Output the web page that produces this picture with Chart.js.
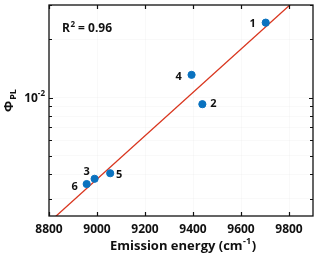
<!DOCTYPE html>
<html>
<head>
<meta charset="utf-8">
<script src="https://cdn.jsdelivr.net/npm/chart.js@4.4.1/dist/chart.umd.min.js"></script>
<style>
  html, body { margin: 0; padding: 0; background: #fff; }
  #wrap { width: 318px; height: 259px; position: relative; }
</style>
</head>
<body>
<div id="wrap"><canvas id="chart"></canvas></div>
<script>
// emission energy (cm-1) and PL quantum yield of the six samples
const sampleLabels = ['1', '2', '3', '4', '5', '6'];
const energy = [9703, 9439, 8990, 9394, 9055, 8957];
const phiPL = [0.0244, 0.00924, 0.0038, 0.0131, 0.00406, 0.00357];

// linear fit of log(phi) vs energy, given by its two ends
const fitX = [8800, 9900];
const fitY = [0.00226, 0.0386];

const xTicks = [8800, 9000, 9200, 9400, 9600, 9800];
const yTicks = [0.003, 0.004, 0.005, 0.006, 0.007, 0.008, 0.009, 0.01, 0.02, 0.03];
const yLabelled = [0.01];
const rSquared = '0.96';

const FONT = '"Open Sans", "DejaVu Sans", sans-serif';

// label offsets per sample (dx, dy)
const labelPos = {
    '1': [-13, 1],
    '2': [11, 0],
    '3': [-8, -7],
    '4': [-13, 2],
    '5': [9, 2],
    '6': [-12, 3]
};

function supText(ctx, base, sup, x, y, size, align) {
    ctx.font = 'bold ' + size + 'px ' + FONT;
    const wb = ctx.measureText(base).width;
    ctx.font = 'bold ' + Math.round(size * 0.68) + 'px ' + FONT;
    const ws = ctx.measureText(sup).width;
    let x0 = x;
    if (align === 'right') x0 = x - wb - ws;
    if (align === 'center') x0 = x - (wb + ws) / 2;
    ctx.textAlign = 'left';
    ctx.font = 'bold ' + size + 'px ' + FONT;
    ctx.fillText(base, x0, y);
    ctx.font = 'bold ' + Math.round(size * 0.68) + 'px ' + FONT;
    ctx.fillText(sup, x0 + wb, y - size * 0.42);
}

const decorations = {
    id: 'decorations',
    afterDatasetsDraw(chart) {
        const ctx = chart.ctx;
        const area = chart.chartArea;
        const xs = chart.scales.x;
        const ys = chart.scales.y;
        ctx.save();
        ctx.strokeStyle = '#111';
        ctx.fillStyle = '#111';

        // box
        ctx.lineWidth = 1.3;
        ctx.strokeRect(area.left, area.top, area.right - area.left, area.bottom - area.top);

        // inward ticks on all sides
        ctx.lineWidth = 1.2;
        ctx.beginPath();
        xTicks.forEach(v => {
            const px = Math.round(xs.getPixelForValue(v)) + 0.5;
            ctx.moveTo(px, area.bottom); ctx.lineTo(px, area.bottom - 4);
            ctx.moveTo(px, area.top); ctx.lineTo(px, area.top + 4);
        });
        yTicks.forEach(v => {
            const py = Math.round(ys.getPixelForValue(v)) + 0.5;
            const len = yLabelled.includes(v) ? 4 : 3;
            ctx.moveTo(area.left, py); ctx.lineTo(area.left + len, py);
            ctx.moveTo(area.right, py); ctx.lineTo(area.right - len, py);
        });
        ctx.stroke();

        // y tick label 10^-2
        ctx.textBaseline = 'middle';
        yLabelled.forEach(v => {
            const py = ys.getPixelForValue(v);
            supText(ctx, '10', '-2', area.left - 4, py + 1, 12, 'right');
        });

        // sample labels
        ctx.textBaseline = 'middle';
        ctx.textAlign = 'center';
        ctx.font = 'bold 11px ' + FONT;
        const meta = chart.getDatasetMeta(0);
        meta.data.forEach((pt, i) => {
            const lab = sampleLabels[i];
            const off = labelPos[lab];
            ctx.fillText(lab, pt.x + off[0], pt.y + off[1]);
        });

        // R^2 annotation
        ctx.textBaseline = 'alphabetic';
        ctx.font = 'bold 12px ' + FONT;
        const x0 = area.left + 13;
        const y0 = area.top + 27;
        ctx.textAlign = 'left';
        ctx.fillText('R', x0, y0);
        const wR = ctx.measureText('R').width;
        ctx.font = 'bold 8px ' + FONT;
        ctx.fillText('2', x0 + wR + 0.5, y0 - 5);
        ctx.font = 'bold 12px ' + FONT;
        ctx.fillText(' = ' + rSquared, x0 + wR + 5, y0);

        // x axis title
        const cx = (area.left + area.right) / 2 + 2;
        const ty = 250;
        ctx.font = 'bold 13px ' + FONT;
        const t1 = 'Emission energy (cm';
        const w1 = ctx.measureText(t1).width;
        ctx.font = 'bold 9px ' + FONT;
        const w2 = ctx.measureText('-1').width;
        ctx.font = 'bold 13px ' + FONT;
        const w3 = ctx.measureText(')').width;
        const sx = cx - (w1 + w2 + w3 + 1) / 2;
        ctx.fillText(t1, sx, ty);
        ctx.font = 'bold 9px ' + FONT;
        ctx.fillText('-1', sx + w1 + 0.5, ty - 6);
        ctx.font = 'bold 13px ' + FONT;
        ctx.fillText(')', sx + w1 + w2 + 1, ty);

        // y axis title (rotated)
        ctx.save();
        ctx.translate(13, 112);
        ctx.rotate(-Math.PI / 2);
        ctx.font = 'bold 13px ' + FONT;
        ctx.fillText('\u03A6', 0, 0);
        const wPhi = ctx.measureText('\u03A6').width;
        ctx.font = 'bold 9px ' + FONT;
        ctx.fillText('PL', wPhi + 1, 3);
        ctx.restore();

        ctx.restore();
    }
};

new Chart(document.getElementById('chart'), {
    type: 'scatter',
    data: {
        datasets: [
            {
                label: 'samples',
                data: energy.map((e, i) => ({ x: e, y: phiPL[i] })),
                backgroundColor: '#0a72bf',
                borderColor: '#0a72bf',
                pointRadius: 3.6,
                order: 1
            },
            {
                label: 'fit',
                type: 'line',
                data: fitX.map((e, i) => ({ x: e, y: fitY[i] })),
                borderColor: '#d9361f',
                borderWidth: 1.3,
                pointRadius: 0,
                fill: false,
                order: 2
            }
        ]
    },
    options: {
        responsive: true,
        maintainAspectRatio: false,
        animation: false,
        devicePixelRatio: 1,
        layout: { padding: { left: 0, right: 3, top: 2, bottom: 0 } },
        plugins: {
            legend: { display: false },
            tooltip: { enabled: false }
        },
        scales: {
            x: {
                type: 'linear',
                min: 8800,
                max: 9900,
                afterBuildTicks: scale => { scale.ticks = xTicks.map(v => ({ value: v })); },
                afterFit: scale => { scale.height = 43; },
                grid: {
                    color: 'rgba(0,0,0,0.025)',
                    drawTicks: false
                },
                border: { display: false },
                ticks: {
                    color: '#111',
                    padding: 6,
                    maxRotation: 0,
                    autoSkip: false,
                    callback: value => String(value),
                    font: { family: FONT, size: 12, weight: 'bold' }
                }
            },
            y: {
                type: 'logarithmic',
                min: 0.00244,
                max: 0.0301,
                afterBuildTicks: scale => { scale.ticks = yTicks.map(v => ({ value: v })); },
                afterFit: scale => { scale.width = 49; },
                grid: {
                    color: 'rgba(0,0,0,0.025)',
                    drawTicks: false
                },
                border: { display: false },
                ticks: { display: false }
            }
        }
    },
    plugins: [decorations]
});
</script>
</body>
</html>
